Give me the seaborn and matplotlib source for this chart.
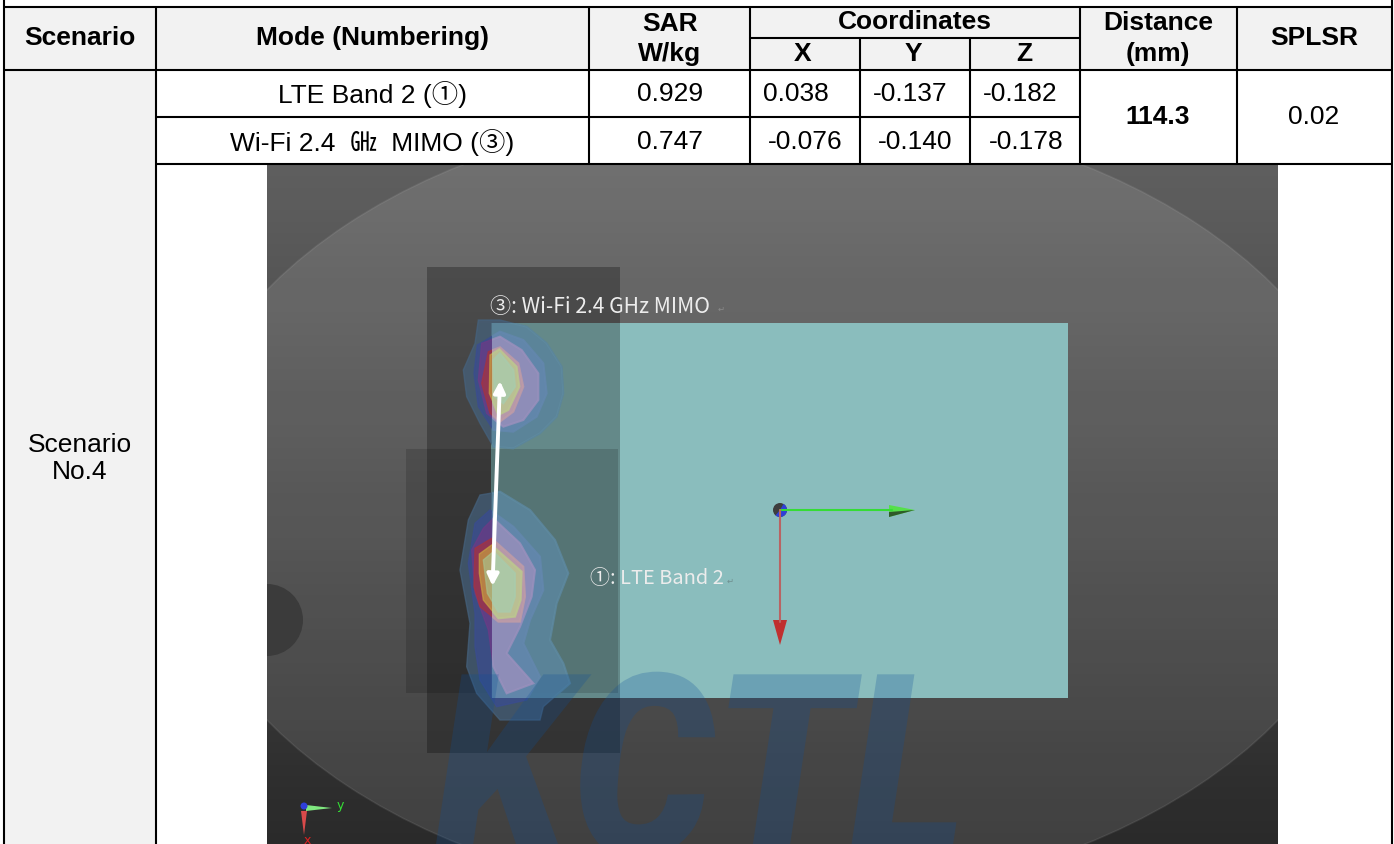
import numpy as np
import pandas as pd
import seaborn as sns
import matplotlib
matplotlib.use("Agg")
import matplotlib.pyplot as plt
from matplotlib.patches import Rectangle, Ellipse, Circle, FancyArrowPatch, Polygon, Wedge
from matplotlib.patheffects import AbstractPathEffect
from matplotlib.transforms import Affine2D

W, H = 1394, 844

# table values
modes = ["LTE Band 2 (①)", "Wi-Fi 2.4  ㎓  MIMO (③)"]
sar = ["0.929", "0.747"]
coord_x = ["0.038", "-0.076"]
coord_y = ["-0.137", "-0.140"]
coord_z = ["-0.182", "-0.178"]
distance = "114.3"
splsr = "0.02"
scenario_label = "Scenario\nNo.4"
label_wifi = "③: Wi-Fi 2.4 GHz MIMO"
label_lte = "①: LTE Band 2"
watermark = "KCTL"

# hot spot outlines (crop px, 3x)
spot_top = [
    [(235,180),(300,180),(380,200),(440,250),(485,320),(490,400),(470,470),(420,520),(340,565),(280,560),(240,490),(200,410),(190,330),(225,250)],
    [(232,255),(300,215),(370,240),(430,310),(440,400),(410,470),(340,515),(280,510),(235,440),(222,340)],
    [(245,250),(300,230),(365,270),(415,340),(415,420),(370,480),(310,500),(260,460),(235,360)],
    [(265,275),(300,262),(355,310),(370,380),(340,455),(300,485),(270,460),(245,370)],
    [(270,285),(298,268),(350,320),(358,380),(325,450),(295,465),(268,400)],
    [(280,300),(300,280),(340,330),(345,380),(310,430),(285,410)],
]
spot_low = [
    [(240,45),(300,35),(390,90),(465,180),(505,280),(470,370),(450,480),(490,550),(510,610),(430,680),(420,720),(300,720),(230,640),(200,560),(210,430),(180,270),(205,120)],
    [(225,130),(270,90),(340,140),(420,230),(430,330),(390,420),(370,490),(420,590),(380,660),(290,680),(240,600),(225,500),(225,400),(205,250)],
    [(250,145),(280,115),(360,190),(405,270),(395,350),(360,440),(320,520),(400,610),(320,640),(280,560),(265,450),(225,340),(215,210)],
    [(225,205),(275,175),(370,260),(375,350),(360,425),(295,425),(240,380),(222,320)],
    [(238,222),(275,195),(365,275),(362,360),(345,410),(295,415),(250,360),(238,280)],
    [(250,240),(280,215),(345,280),(345,350),(330,395),(295,395),(262,340)],
]
spot_dark = ["#45627e", "#3a4c92", "#6e3a86", "#a8323e", "#c8a040", "#a9bf8a"]
spot_pale = ["#5f8ba0", "#6488ae", "#9a90bd", "#c09ca6", "#bcc98e", "#a9cbac"]

sns.set_theme(style="white")
plt.rcParams["font.family"] = ["Liberation Sans", "Noto Sans CJK KR", "DejaVu Sans"]

fig = plt.figure(figsize=(W / 100, H / 100), dpi=100, facecolor="white")

# the screenshot's dark backdrop as a heatmap
px0, px1, py0, py1 = 267, 1278, 165, 844
ax_photo = fig.add_axes([px0 / W, 1 - py1 / H, (px1 - px0) / W, (py1 - py0) / H])
shade = pd.DataFrame(np.linspace(0.37, 0.165, 60).reshape(-1, 1))
sns.heatmap(shade, ax=ax_photo, cmap="gray", vmin=0, vmax=1, cbar=False,
            xticklabels=False, yticklabels=False)

# everything else in pixel coords on top
ax = fig.add_axes([0, 0, 1, 1], facecolor="none")
ax.set_xlim(0, W)
ax.set_ylim(H, 0)
ax.axis("off")

photo_clip = Rectangle((px0, py0), px1 - px0, py1 - py0, transform=ax.transData)

cyl = Ellipse((772.5, 505), 1203, 794, fc=(1, 1, 1, 0.105), ec=(1, 1, 1, 0.08), lw=1.2)
ax.add_patch(cyl)
cyl.set_clip_path(photo_clip)
notch = Circle((267, 620), 36, fc="#3b3b3b", ec="none")
ax.add_patch(notch)
notch.set_clip_path(photo_clip)

# phantom area + scan area boxes
teal = Rectangle((491, 323), 577, 375, fc="#8abdbd", ec="none")
ax.add_patch(teal)
ax.add_patch(Rectangle((427, 267), 193, 486, fc=(0, 0, 0, 0.27), ec="none"))
ax.add_patch(Rectangle((406, 449), 212, 244, fc=(0, 0, 0, 0.15), ec="none"))


def draw_spot(levels, x0, y0):
    for i, pts in enumerate(levels):
        xy = np.array(pts) / 3 + [x0, y0]
        ax.add_patch(Polygon(xy, fc=spot_dark[i], ec=spot_dark[i], lw=1, alpha=0.7))
    for i, pts in enumerate(levels):
        xy = np.array(pts) / 3 + [x0, y0]
        p = Polygon(xy, fc=spot_pale[i], ec=spot_pale[i], lw=1.5, alpha=0.8)
        ax.add_patch(p)
        p.set_clip_path(Rectangle((492, 323), 576, 375, transform=ax.transData))


draw_spot(spot_top, 400, 260)
draw_spot(spot_low, 400, 480)


class Squeeze(AbstractPathEffect):
    # narrow the glyphs, no condensed bold italic is installed
    def __init__(self, sx, x0):
        super().__init__()
        self.sx = sx
        self.x0 = x0

    def draw_path(self, renderer, gc, tpath, affine, rgbFace=None):
        squeeze = Affine2D().translate(-self.x0, 0).scale(self.sx, 1).translate(self.x0, 0)
        renderer.draw_path(gc, tpath, affine + squeeze, rgbFace)


wm = ax.text(434, 856, watermark, fontsize=184, fontweight=900, fontstyle="italic",
             family="Roboto", color="#0f4f9a", alpha=0.25, ha="left", va="baseline")
wm.set_path_effects([Squeeze(0.87, 434)])
wm.set_clip_path(photo_clip)

# distance arrow
ax.add_patch(FancyArrowPatch((500, 381), (492.5, 586), arrowstyle="<|-|>", mutation_scale=17,
                             color="white", lw=2.8, shrinkA=0, shrinkB=0))

# labels inside the screenshot
ax.text(490, 307, label_wifi, fontsize=15.2, color="#ececec", family=["Noto Sans CJK KR", "DejaVu Sans"],
        ha="left", va="center")
ax.text(590, 578, label_lte, fontsize=14.4, color="#ececec", family=["Noto Sans CJK KR", "DejaVu Sans"],
        ha="left", va="center")
ax.text(718, 309, "↵", fontsize=6, color="#8a8a8a", family="DejaVu Sans", ha="left", va="center")
ax.text(727, 581, "↵", fontsize=6, color="#6f8f8f", family="DejaVu Sans", ha="left", va="center")

# axis triad on the phantom
ax.plot([780, 892], [510, 510], color="#35dc35", lw=1.5)
ax.plot([780, 780], [510, 622], color="#b96464", lw=1.5)
ax.add_patch(Polygon([(889, 505), (915, 510), (889, 517)], fc="#55e04a", ec="none"))
ax.add_patch(Polygon([(889, 512), (915, 510), (889, 517)], fc="#2f5a2a", ec="none"))
ax.add_patch(Polygon([(773, 620), (787, 620), (780, 645)], fc="#c03030", ec="none"))
ax.add_patch(Circle((780, 510), 7, fc="#3d3d3d", ec="none"))
ax.add_patch(Wedge((780, 510), 7, -60, 130, fc="#2f3fd8", ec="none"))

# small triad bottom left
ax.add_patch(Polygon([(306, 805), (332, 808), (306, 811)], fc="#7fe87f", ec="none"))
ax.add_patch(Polygon([(301, 811), (307, 811), (304, 835)], fc="#d84a4a", ec="none"))
ax.add_patch(Circle((304, 806), 3.5, fc="#2f3fd8", ec="none"))
ax.text(337, 805, "y", fontsize=9, color="#35e035", ha="left", va="center", family="DejaVu Sans")
ax.text(307, 840, "x", fontsize=9, color="#e02020", ha="center", va="center", family="DejaVu Sans")

# table shading
ax.add_patch(Rectangle((4, 7), 1388, 63, fc="#f2f2f2", ec="none", zorder=-1))
ax.add_patch(Rectangle((4, 70), 152, 774, fc="#f2f2f2", ec="none", zorder=-1))

# grid lines
LW = 1.5
for x in [4, 1392]:
    ax.plot([x, x], [0, H], color="black", lw=LW, solid_capstyle="butt")
ax.plot([4, 1392], [6.5, 6.5], color="black", lw=LW)
ax.plot([4, 1392], [70, 70], color="black", lw=LW)
ax.plot([156, 1080], [117, 117], color="black", lw=LW)
ax.plot([156, 1392], [164, 164], color="black", lw=LW)
ax.plot([750, 1080], [38, 38], color="black", lw=LW)
ax.plot([156, 156], [6.5, H], color="black", lw=LW, solid_capstyle="butt")
ax.plot([589, 589], [6.5, 164], color="black", lw=LW)
ax.plot([750, 750], [6.5, 164], color="black", lw=LW)
ax.plot([860, 860], [38, 164], color="black", lw=LW)
ax.plot([970, 970], [38, 164], color="black", lw=LW)
ax.plot([1080, 1080], [6.5, 164], color="black", lw=LW)
ax.plot([1237, 1237], [6.5, 164], color="black", lw=LW)

# table text
FS = 19
head = dict(fontsize=FS, fontweight="bold", ha="center", va="center", color="black")
cell = dict(fontsize=FS, ha="center", va="center", color="black")
ax.text(80, 38, "Scenario", **head)
ax.text(373, 38, "Mode (Numbering)", **head)
ax.text(670, 24, "SAR", **head)
ax.text(670, 54, "W/kg", **head)
ax.text(915, 22, "Coordinates", **head)
ax.text(803, 54, "X", **head)
ax.text(913, 54, "Y", **head)
ax.text(1024, 54, "Z", **head)
ax.text(1158, 23, "Distance", **head)
ax.text(1158, 54, "(mm)", **head)
ax.text(1314, 38, "SPLSR", **head)

row_y = [94, 142]
x_pos = [796, 805]
y_pos = [910, 915]
z_pos = [1020, 1026]
for i in range(2):
    ax.text(372, row_y[i], modes[i], **cell)
    ax.text(670, row_y[i], sar[i], **cell)
    ax.text(x_pos[i], row_y[i], coord_x[i], **cell)
    ax.text(y_pos[i], row_y[i], coord_y[i], **cell)
    ax.text(z_pos[i], row_y[i], coord_z[i], **cell)
ax.text(1158, 117, distance, fontsize=FS, fontweight="bold", ha="center", va="center", color="black")
ax.text(1314, 117, splsr, **cell)
ax.text(80, 458.5, scenario_label, fontsize=FS, ha="center", va="center", color="black", linespacing=1.2)

fig.savefig("out.png", dpi=100)
